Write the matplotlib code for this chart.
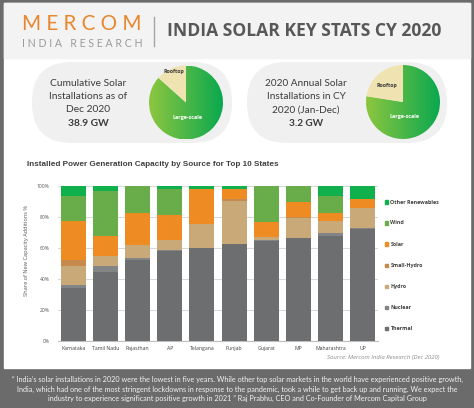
import matplotlib
matplotlib.use('Agg')
import matplotlib.pyplot as plt
import numpy as np
from matplotlib.patches import Rectangle, FancyBboxPatch
from matplotlib.colors import LinearSegmentedColormap

W, H, DPI = 474, 408, 100

# ---------------- data ----------------
states = ['Karnataka', 'Tamil Nadu', 'Rajasthan', 'AP', 'Telangana',
          'Punjab', 'Gujarat', 'MP', 'Maharashtra', 'UP']
thermal = [34.2, 44.2, 52.0, 57.8, 60.0, 62.5, 64.3, 66.5, 68.0, 72.4]
nuclear = [2.2, 4.3, 1.8, 0.7, 0.0, 0.3, 1.0, 0.0, 1.6, 0.8]
hydro = [12.2, 6.5, 7.9, 6.5, 15.6, 27.5, 1.5, 13.1, 7.5, 12.9]
small_hydro = [3.6, 0.0, 0.0, 0.0, 0.0, 1.2, 0.0, 0.5, 0.5, 0.0]
solar = [25.3, 13.0, 21.0, 16.5, 22.4, 6.3, 10.2, 9.5, 5.0, 5.3]
wind = [16.1, 28.5, 17.3, 16.8, 0.0, 0.0, 23.0, 10.4, 11.2, 0.0]
other_renew = [6.4, 3.5, 0.0, 1.7, 2.0, 2.2, 0.0, 0.0, 6.2, 8.6]
series_names = ['Thermal', 'Nuclear', 'Hydro', 'Small-Hydro', 'Solar',
                'Wind', 'Other Renewables']
y_ticks = [0, 20, 40, 60, 80, 100]

pie_labels = ['Rooftop', 'Large-scale']
cumulative_share = [13.4, 86.6]     # 38.9 GW cumulative
annual_share = [22.5, 77.5]         # 3.2 GW in 2020

series_colors = ['#6d6e70', '#838485', '#c9a978', '#c68a4c', '#ee8b22',
                 '#69ad4a', '#10b04c']

# ---------------- figure ----------------
fig = plt.figure(figsize=(W / DPI, H / DPI), dpi=DPI)
fig.patch.set_facecolor('white')
renderer = fig.canvas.get_renderer()

bg = fig.add_axes([0, 0, 1, 1])
bg.set_xlim(0, W)
bg.set_ylim(H, 0)
bg.axis('off')


def size_for(s, width, **kw):
    t = fig.text(0, 0, s, fontsize=10, **kw)
    w = t.get_window_extent(renderer).width
    t.remove()
    return 10 * width / w


def fit(ax, x, y, s, width, **kw):
    t = ax.text(x, y, s, fontsize=size_for(s, width, **{k: v for k, v in kw.items()
                                                            if k in ('family', 'fontweight', 'fontstyle')}),
                **kw)
    return t


DARK = '#6b6b6b'
bg.add_patch(Rectangle((0, 0), W, H, color=DARK, zorder=0))
bg.add_patch(Rectangle((4, 3), 466, 365, color='white', zorder=0.1))
bg.add_patch(Rectangle((4, 3), 466, 55, color='#f3f3f3', zorder=0.2))

# logo + title
fit(bg, 22, 23.5, 'M E R C O M', 119, family='Lato', fontweight='normal',
    color='#e8862c', ha='left', va='center')
fit(bg, 22, 43.3, 'I N D I A   R E S E A R C H', 119, family='Lato',
    color='#9a9a9a', ha='left', va='center')
bg.plot([154, 154], [17, 46], color='#a6a6a6', lw=1)
fit(bg, 304.5, 31, 'INDIA SOLAR KEY STATS CY 2020', 275, family='Open Sans',
    fontweight='bold', color='#585858', ha='center', va='center')

# pills
for x0, x1 in [(32, 232), (247, 447)]:
    bg.add_patch(FancyBboxPatch((x0, 62), x1 - x0, 81,
                                boxstyle='round,pad=0,rounding_size=40',
                                fc='#f0f0f0', ec='none', zorder=0.3))

TXT = '#3c3c3c'
pill_text = [
    (88.5, ['Cumulative Solar', 'Installations as of', 'Dec 2020', '38.9 GW'], 76),
    (306, ['2020 Annual Solar', 'Installations in CY', '2020 (Jan-Dec)', '3.2 GW'], 81),
]
for cx, lines, wref in pill_text:
    fs = size_for(lines[0], wref, family='Lato')
    for i, (ln, yy) in enumerate(zip(lines, [83.3, 96.7, 110, 123.5])):
        bg.text(cx, yy, ln, fontsize=fs, family='Lato', color=TXT, ha='center',
                va='center', fontweight='bold' if i == 3 else 'normal')

# pies
cmap = LinearSegmentedColormap.from_list('g', ['#8dc63f', '#0aa84f'])
grad = np.linspace(0, 1, 256).reshape(1, -1)


def draw_pie(cx, cy, r, shares, roof_xy, large_xy):
    ax = fig.add_axes([(cx - r) / W, 1 - (cy + r) / H, 2 * r / W, 2 * r / H])
    wedges, _ = ax.pie(shares, colors=['#eee3b1', 'none'], startangle=90,
                       counterclock=True, radius=1,
                       wedgeprops=dict(linewidth=0))
    im = ax.imshow(grad, extent=[-1, 1, -1, 1], cmap=cmap, aspect='auto', zorder=0.5)
    im.set_clip_path(wedges[1])
    ax.set_xlim(-1, 1)
    ax.set_ylim(-1, 1)
    ax.axis('off')
    ax.text(*roof_xy, pie_labels[0], fontsize=3.8, fontweight='bold', color='#3a3a3a',
            ha='center', va='center', family='Open Sans', zorder=3)
    ax.text(*large_xy, pie_labels[1], fontsize=3.9, fontweight='bold', color='white',
            ha='center', va='center', family='Open Sans', zorder=3)


draw_pie(186, 102.5, 37, cumulative_share, (-0.34, 0.83), (0.05, -0.4))
draw_pie(403, 102, 37, annual_share, (-0.44, 0.45), (0.05, -0.38))

# ---------------- chart ----------------
fit(bg, 26.7, 164.3, 'Installed Power Generation Capacity by Source for Top 10 States',
    249, family='Liberation Sans', fontweight='bold', color='#3f3f3f',
    ha='left', va='center')

ax = fig.add_axes([58 / W, 1 - 341 / H, 320 / W, 155 / H])
ax.set_facecolor('none')
x = np.arange(len(states))
bottom = np.zeros(len(states))
all_series = [thermal, nuclear, hydro, small_hydro, solar, wind, other_renew]
for vals, c, name in zip(all_series, series_colors, series_names):
    ax.bar(x, vals, bottom=bottom, width=0.78, color=c, zorder=3, label=name,
           linewidth=0)
    bottom += np.array(vals)
ax.set_xlim(-0.48, len(states) - 0.52)
ax.set_ylim(0, 100)
ax.set_yticks(y_ticks)
tick_fs_y = size_for('100%', 13, family='Open Sans')
ax.set_yticklabels([f'{v}%' for v in y_ticks], fontsize=tick_fs_y, family='Open Sans',
                   color='#595959')
ax.set_xticks(x)
tick_fs_x = size_for('Karnataka', 24.5, family='Open Sans')
ax.set_xticklabels(states, fontsize=tick_fs_x, family='Open Sans', color='#404040')
ax.tick_params(length=0, pad=3.5)
ax.tick_params(axis='y', pad=6)
ax.yaxis.grid(True, color='#d9d9d9', lw=0.8, zorder=0)
for s in ['top', 'right', 'left']:
    ax.spines[s].set_visible(False)
ax.spines['bottom'].set_color('#bfbfbf')
ax.spines['bottom'].set_linewidth(0.8)

ylab = 'Share of New Capacity Additions %'
fs_ylab = size_for(ylab, 92, family='Open Sans')
bg.text(26.7, 251, ylab, fontsize=fs_ylab, family='Open Sans', color='#595959',
        rotation=90, ha='center', va='center')

# legend (top to bottom)
leg_y = [202, 223, 244, 265.3, 286.3, 307.5, 328.5]
fs_leg = size_for('Other Renewables', 50, family='Open Sans', fontweight='bold')
for name, c, yy in zip(series_names[::-1], series_colors[::-1], leg_y):
    bg.add_patch(Rectangle((385, yy - 1.6), 3.2, 3.2, color=c, zorder=2))
    bg.text(390.5, yy, name, fontsize=fs_leg, family='Open Sans', fontweight='bold',
            color='#404040', ha='left', va='center')

fit(bg, 440, 357.7, 'Source: Mercom India Research (Dec 2020)', 112,
    family='Open Sans', fontstyle='italic', color='#8c8c8c', ha='right', va='center')

# quote
q = ['\u201c India\u2019s solar installations in 2020 were the lowest in five years. While other top solar markets in the world have experienced positive growth,',
     'India, which had one of the most stringent lockdowns in response to the pandemic, took a while to get back up and running. We expect the',
     'industry to experience significant positive growth in 2021 \u201d Raj Prabhu, CEO and Co-Founder of Mercom Capital Group']
fs_q = size_for(q[0], 455, family='Lato')
for ln, yy in zip(q, [379.5, 389, 398.3]):
    bg.text(237, yy, ln, fontsize=fs_q, family='Lato', color='#f2f2f2',
            ha='center', va='center')

fig.savefig('out.png', dpi=DPI, facecolor=fig.get_facecolor())
